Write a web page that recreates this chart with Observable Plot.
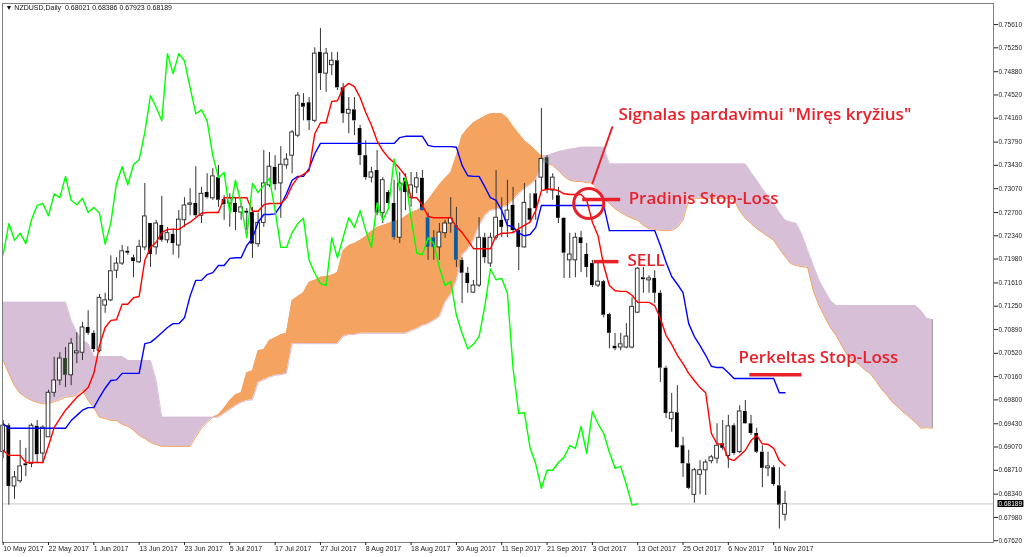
<!DOCTYPE html>
<html>
<head>
<meta charset="utf-8">
<script src="https://cdn.jsdelivr.net/npm/d3@7"></script>
<script src="https://cdn.jsdelivr.net/npm/@observablehq/plot@0.6"></script>
<style>
  html, body { margin: 0; padding: 0; background: #fff; }
  #chart { width: 1024px; height: 557px; }
</style>
</head>
<body>
<div id="chart"></div>
<script>
// NZDUSD daily, 10 May 2017 .. 20 Nov 2017 (bar index 0..138)
const open = [
  0.6899, 0.6940, 0.6846, 0.6854, 0.6881, 0.6881, 0.6939, 0.6897, 0.6922, 0.6991,
  0.7010, 0.7044, 0.7018, 0.7052, 0.7053, 0.7092, 0.7083, 0.7056, 0.7126, 0.7134,
  0.7180, 0.7191, 0.7210, 0.7200, 0.7193, 0.7216, 0.7253, 0.7216, 0.7250, 0.7227,
  0.7236, 0.7219, 0.7258, 0.7282, 0.7284, 0.7265, 0.7301, 0.7292, 0.7324, 0.7290,
  0.7284, 0.7284, 0.7270, 0.7272, 0.7270, 0.7221, 0.7254, 0.7312, 0.7340, 0.7315,
  0.7343, 0.7358, 0.7389, 0.7439, 0.7440, 0.7412, 0.7518, 0.7485, 0.7498, 0.7505,
  0.7463, 0.7423, 0.7429, 0.7400, 0.7358, 0.7324, 0.7335, 0.7269, 0.7301, 0.7284,
  0.7231, 0.7323, 0.7293, 0.7309, 0.7323, 0.7262, 0.7231, 0.7216, 0.7238, 0.7253,
  0.7250, 0.7196, 0.7176, 0.7146, 0.7157, 0.7231, 0.7191, 0.7231, 0.7258, 0.7258,
  0.7281, 0.7242, 0.7216, 0.7276, 0.7299, 0.7324, 0.7355, 0.7304, 0.7296, 0.7261,
  0.7196, 0.7196, 0.7231, 0.7205, 0.7191, 0.7157, 0.7163, 0.7112, 0.7063, 0.7061,
  0.7061, 0.7061, 0.7115, 0.7169, 0.7165, 0.7168, 0.7145, 0.7029, 0.6950, 0.6960,
  0.6909, 0.6881, 0.6833, 0.6864, 0.6871, 0.6885, 0.6889, 0.6912, 0.6893, 0.6940,
  0.6899, 0.6962, 0.6943, 0.6928, 0.6899, 0.6874, 0.6875, 0.6847, 0.68021
];
const high = [
  0.6948, 0.6943, 0.6869, 0.6917, 0.6905, 0.6943, 0.6948, 0.6940, 0.6995, 0.7046,
  0.7053, 0.7061, 0.7075, 0.7084, 0.7100, 0.7118, 0.7087, 0.7143, 0.7145, 0.7203,
  0.7200, 0.7219, 0.7217, 0.7204, 0.7227, 0.7315, 0.7253, 0.7258, 0.7295, 0.7247,
  0.7245, 0.7273, 0.7293, 0.7307, 0.7341, 0.7309, 0.7330, 0.7338, 0.7343, 0.7296,
  0.7299, 0.7293, 0.7284, 0.7276, 0.7278, 0.7269, 0.7366, 0.7363, 0.7358, 0.7372,
  0.7361, 0.7397, 0.7456, 0.7454, 0.7448, 0.7525, 0.7555, 0.7524, 0.7518, 0.7518,
  0.7470, 0.7448, 0.7448, 0.7405, 0.7381, 0.7340, 0.7366, 0.7324, 0.7304, 0.7320,
  0.7332, 0.7330, 0.7332, 0.7332, 0.7335, 0.7269, 0.7242, 0.7253, 0.7258, 0.7293,
  0.7278, 0.7200, 0.7185, 0.7165, 0.7262, 0.7238, 0.7238, 0.7335, 0.7293, 0.7320,
  0.7309, 0.7253, 0.7315, 0.7299, 0.7320, 0.7431, 0.7358, 0.7330, 0.7309, 0.7262,
  0.7238, 0.7238, 0.7241, 0.7222, 0.7196, 0.7191, 0.7165, 0.7114, 0.7083, 0.7083,
  0.7098, 0.7138, 0.7185, 0.7185, 0.7172, 0.7180, 0.7149, 0.7032, 0.6990, 0.7002,
  0.6922, 0.6902, 0.6874, 0.6886, 0.6887, 0.6894, 0.6943, 0.6948, 0.6956, 0.6943,
  0.6971, 0.6979, 0.6956, 0.6936, 0.6909, 0.6899, 0.6878, 0.6875, 0.68386
];
const low = [
  0.6889, 0.6817, 0.6826, 0.6851, 0.6861, 0.6875, 0.6881, 0.6881, 0.6922, 0.6984,
  0.7002, 0.6999, 0.7002, 0.7036, 0.7041, 0.7080, 0.7053, 0.7053, 0.7114, 0.7132,
  0.7168, 0.7188, 0.7204, 0.7169, 0.7191, 0.7211, 0.7185, 0.7204, 0.7224, 0.7222,
  0.7204, 0.7199, 0.7247, 0.7265, 0.7262, 0.7253, 0.7291, 0.7289, 0.7278, 0.7258,
  0.7247, 0.7242, 0.7258, 0.7242, 0.7199, 0.7216, 0.7247, 0.7309, 0.7304, 0.7261,
  0.7337, 0.7330, 0.7386, 0.7412, 0.7397, 0.7409, 0.7459, 0.7456, 0.7482, 0.7459,
  0.7408, 0.7392, 0.7389, 0.7343, 0.7320, 0.7316, 0.7265, 0.7253, 0.7278, 0.7227,
  0.7222, 0.7273, 0.7278, 0.7299, 0.7272, 0.7196, 0.7196, 0.7196, 0.7230, 0.7238,
  0.7185, 0.7129, 0.7145, 0.7145, 0.7154, 0.7191, 0.7185, 0.7227, 0.7231, 0.7231,
  0.7238, 0.7180, 0.7215, 0.7254, 0.7258, 0.7304, 0.7299, 0.7289, 0.7253, 0.7168,
  0.7168, 0.7169, 0.7177, 0.7169, 0.7154, 0.7154, 0.7107, 0.7059, 0.7056, 0.7056,
  0.7059, 0.7059, 0.7114, 0.7145, 0.7145, 0.7129, 0.7007, 0.6951, 0.6930, 0.6905,
  0.6860, 0.6841, 0.6820, 0.6833, 0.6832, 0.6881, 0.6881, 0.6902, 0.6874, 0.6894,
  0.6897, 0.6942, 0.6925, 0.6897, 0.6844, 0.6861, 0.6846, 0.6780, 0.67923
];
const close = [
  0.6940, 0.6846, 0.6860, 0.6877, 0.6878, 0.6940, 0.6895, 0.6937, 0.6991, 0.7010,
  0.7044, 0.7018, 0.7067, 0.7055, 0.7092, 0.7083, 0.7058, 0.7138, 0.7134, 0.7179,
  0.7191, 0.7210, 0.7207, 0.7194, 0.7217, 0.7264, 0.7205, 0.7253, 0.7227, 0.7238,
  0.7222, 0.7259, 0.7281, 0.7284, 0.7265, 0.7299, 0.7293, 0.7326, 0.7289, 0.7282,
  0.7292, 0.7270, 0.7278, 0.7269, 0.7221, 0.7254, 0.7315, 0.7341, 0.7313, 0.7344,
  0.7352, 0.7394, 0.7451, 0.7433, 0.7412, 0.7516, 0.7485, 0.7516, 0.7505, 0.7463,
  0.7423, 0.7429, 0.7412, 0.7358, 0.7324, 0.7332, 0.7269, 0.7320, 0.7284, 0.7231,
  0.7315, 0.7301, 0.7312, 0.7323, 0.7273, 0.7216, 0.7216, 0.7239, 0.7253, 0.7261,
  0.7196, 0.7176, 0.7160, 0.7157, 0.7231, 0.7200, 0.7231, 0.7262, 0.7247, 0.7273,
  0.7242, 0.7216, 0.7285, 0.7258, 0.7276, 0.7353, 0.7304, 0.7324, 0.7261, 0.7207,
  0.7205, 0.7231, 0.7222, 0.7185, 0.7157, 0.7163, 0.7111, 0.7083, 0.7059, 0.7066,
  0.7078, 0.7124, 0.7183, 0.7166, 0.7168, 0.7145, 0.7029, 0.6959, 0.6960, 0.6906,
  0.6881, 0.6843, 0.6871, 0.6871, 0.6883, 0.6891, 0.6909, 0.6905, 0.6939, 0.6897,
  0.6962, 0.6943, 0.6928, 0.6899, 0.6874, 0.6877, 0.6849, 0.6817, 0.68189
];

// Ichimoku lines as drawn (red tenkan-sen, blue kijun-sen)
const tenkan = [
  0.6902, 0.6894, 0.6894, 0.6894, 0.6883, 0.6883, 0.6883, 0.6883, 0.6909, 0.6937,
  0.6951, 0.6964, 0.6974, 0.6984, 0.6991, 0.6999, 0.7021, 0.7064, 0.7092, 0.7103,
  0.7104, 0.7128, 0.7128, 0.7138, 0.7140, 0.7196, 0.7216, 0.7224, 0.7239, 0.7244,
  0.7244, 0.7244, 0.7250, 0.7255, 0.7262, 0.7269, 0.7270, 0.7270, 0.7270, 0.7293,
  0.7293, 0.7293, 0.7293, 0.7293, 0.7272, 0.7272, 0.7282, 0.7284, 0.7284, 0.7284,
  0.7293, 0.7312, 0.7324, 0.7329, 0.7335, 0.7392, 0.7409, 0.7409, 0.7442, 0.7443,
  0.7463, 0.7470, 0.7465, 0.7448, 0.7425, 0.7405, 0.7381, 0.7366, 0.7355, 0.7347,
  0.7338, 0.7327, 0.7293, 0.7293, 0.7281, 0.7264, 0.7262, 0.7262, 0.7262, 0.7262,
  0.7248, 0.7239, 0.7227, 0.7214, 0.7214, 0.7214, 0.7214, 0.7234, 0.7238, 0.7238,
  0.7239, 0.7245, 0.7250, 0.7255, 0.7273, 0.7304, 0.7306, 0.7306, 0.7304, 0.7299,
  0.7298, 0.7298, 0.7298, 0.7289, 0.7255, 0.7234, 0.7188, 0.7157, 0.7149, 0.7148,
  0.7148, 0.7142, 0.7131, 0.7131, 0.7131, 0.7126, 0.7106, 0.7080, 0.7066, 0.7049,
  0.7036, 0.7021, 0.7010, 0.6999, 0.6991, 0.6928, 0.6912, 0.6911, 0.6889, 0.6886,
  0.6894, 0.6902, 0.6917, 0.6925, 0.6912, 0.6911, 0.6905, 0.6886, 0.6878
];
const kijun = [
  0.6943, 0.6936, 0.6936, 0.6936, 0.6936, 0.6936, 0.6936, 0.6936, 0.6936, 0.6936,
  0.6936, 0.6936, 0.6948, 0.6956, 0.6964, 0.6968, 0.6968, 0.6984, 0.6998, 0.7010,
  0.7011, 0.7021, 0.7021, 0.7021, 0.7021, 0.7067, 0.7069, 0.7076, 0.7084, 0.7092,
  0.7098, 0.7098, 0.7107, 0.7141, 0.7165, 0.7165, 0.7174, 0.7177, 0.7188, 0.7188,
  0.7199, 0.7200, 0.7200, 0.7219, 0.7230, 0.7255, 0.7267, 0.7267, 0.7268, 0.7281,
  0.7299, 0.7320, 0.7326, 0.7326, 0.7338, 0.7361, 0.7377, 0.7377, 0.7377, 0.7377,
  0.7377, 0.7377, 0.7377, 0.7377, 0.7377, 0.7377, 0.7377, 0.7377, 0.7377, 0.7377,
  0.7386, 0.7388, 0.7388, 0.7388, 0.7388, 0.7374, 0.7372, 0.7372, 0.7372, 0.7372,
  0.7371, 0.7343, 0.7327, 0.7326, 0.7326, 0.7310, 0.7293, 0.7289, 0.7273, 0.7250,
  0.7248, 0.7238, 0.7234, 0.7236, 0.7247, 0.7281, 0.7281, 0.7281, 0.7281, 0.7281,
  0.7281, 0.7281, 0.7281, 0.7281, 0.7281, 0.7281, 0.7281, 0.7242, 0.7242, 0.7242,
  0.7242, 0.7242, 0.7242, 0.7242, 0.7242, 0.7242, 0.7219, 0.7193, 0.7171, 0.7159,
  0.7146, 0.7098, 0.7078, 0.7064, 0.7049, 0.7032, 0.7030, 0.7030, 0.7022, 0.7013,
  0.7013, 0.7013, 0.7013, 0.7013, 0.7013, 0.7013, 0.7013, 0.6991, 0.6991
];

// cloud edges, already shifted 26 bars forward (index 0..164)
const spanA = [
  0.7041, 0.7021, 0.7002, 0.6990, 0.6984, 0.6979, 0.6976, 0.6974, 0.6974, 0.6977,
  0.6980, 0.6984, 0.6985, 0.6987, 0.6995, 0.6979, 0.6968, 0.6953, 0.6951, 0.6948,
  0.6948, 0.6942, 0.6939, 0.6933, 0.6925, 0.6920, 0.6914, 0.6911, 0.6908, 0.6908,
  0.6908, 0.6908, 0.6908, 0.6908, 0.6923, 0.6936, 0.6945, 0.6953, 0.6957, 0.6967,
  0.6979, 0.6988, 0.6991, 0.7022, 0.7025, 0.7056, 0.7058, 0.7072, 0.7076, 0.7081,
  0.7083, 0.7134, 0.7140, 0.7146, 0.7162, 0.7165, 0.7170, 0.7171, 0.7173, 0.7177,
  0.7211, 0.7219, 0.7222, 0.7227, 0.7233, 0.7241, 0.7247, 0.7250, 0.7253, 0.7256,
  0.7258, 0.7264, 0.7270, 0.7273, 0.7279, 0.7289, 0.7301, 0.7313, 0.7323, 0.7332,
  0.7358, 0.7389, 0.7400, 0.7409, 0.7414, 0.7419, 0.7423, 0.7423, 0.7423, 0.7416,
  0.7403, 0.7392, 0.7381, 0.7374, 0.7366, 0.7357, 0.7346, 0.7343, 0.7335, 0.7326,
  0.7320, 0.7318, 0.7318, 0.7316, 0.7316, 0.7304, 0.7292, 0.7284, 0.7276, 0.7270,
  0.7265, 0.7261, 0.7258, 0.7250, 0.7245, 0.7244, 0.7242, 0.7242, 0.7242, 0.7247,
  0.7258, 0.7290, 0.7292, 0.7292, 0.7292, 0.7292, 0.7292, 0.7292, 0.7292, 0.7289,
  0.7273, 0.7261, 0.7253, 0.7245, 0.7239, 0.7233, 0.7227, 0.7214, 0.7202, 0.7191,
  0.7188, 0.7186, 0.7185, 0.7149, 0.7126, 0.7109, 0.7092, 0.7080, 0.7064, 0.7049,
  0.7041, 0.7035, 0.7027, 0.7021, 0.7010, 0.6997, 0.6987, 0.6976, 0.6968, 0.6960,
  0.6953, 0.6945, 0.6936, 0.6937, 0.6936
];
const spanB = [
  0.7131, 0.7131, 0.7131, 0.7131, 0.7131, 0.7131, 0.7131, 0.7131, 0.7131, 0.7131,
  0.7131, 0.7131, 0.7103, 0.7084, 0.7072, 0.7067, 0.7047, 0.7047, 0.7047, 0.7047,
  0.7047, 0.7047, 0.7041, 0.7041, 0.7041, 0.7041, 0.7041, 0.7010, 0.6953, 0.6953,
  0.6953, 0.6953, 0.6953, 0.6953, 0.6953, 0.6953, 0.6953, 0.6953, 0.6953, 0.6959,
  0.6965, 0.6971, 0.6976, 0.6979, 0.6980, 0.7007, 0.7011, 0.7015, 0.7018, 0.7019,
  0.7021, 0.7067, 0.7067, 0.7067, 0.7067, 0.7067, 0.7067, 0.7067, 0.7067, 0.7067,
  0.7078, 0.7081, 0.7081, 0.7083, 0.7083, 0.7083, 0.7083, 0.7083, 0.7083, 0.7083,
  0.7083, 0.7083, 0.7087, 0.7090, 0.7095, 0.7098, 0.7103, 0.7109, 0.7131, 0.7143,
  0.7165, 0.7204, 0.7213, 0.7227, 0.7250, 0.7265, 0.7273, 0.7275, 0.7278, 0.7281,
  0.7289, 0.7299, 0.7307, 0.7313, 0.7320, 0.7343, 0.7358, 0.7361, 0.7364, 0.7366,
  0.7368, 0.7369, 0.7371, 0.7371, 0.7371, 0.7371, 0.7371, 0.7345, 0.7345, 0.7345,
  0.7345, 0.7345, 0.7345, 0.7345, 0.7345, 0.7345, 0.7345, 0.7345, 0.7345, 0.7345,
  0.7345, 0.7345, 0.7345, 0.7345, 0.7345, 0.7345, 0.7345, 0.7345, 0.7345, 0.7345,
  0.7345, 0.7345, 0.7332, 0.7320, 0.7307, 0.7295, 0.7284, 0.7270, 0.7258, 0.7255,
  0.7253, 0.7235, 0.7211, 0.7188, 0.7165, 0.7149, 0.7134, 0.7126, 0.7126, 0.7126,
  0.7126, 0.7126, 0.7126, 0.7126, 0.7126, 0.7126, 0.7126, 0.7126, 0.7126, 0.7126,
  0.7126, 0.7126, 0.7118, 0.7106, 0.7104
];

// axis labels
const dateIdx = [0, 8, 16, 24, 32, 40, 48, 56, 64, 72, 80, 88, 96, 104, 112, 120, 128, 136];
const dateLabels = ["10 May 2017", "22 May 2017", "1 Jun 2017", "13 Jun 2017", "23 Jun 2017",
  "5 Jul 2017", "17 Jul 2017", "27 Jul 2017", "8 Aug 2017", "18 Aug 2017", "30 Aug 2017",
  "11 Sep 2017", "21 Sep 2017", "3 Oct 2017", "13 Oct 2017", "25 Oct 2017", "6 Nov 2017", "16 Nov 2017"];
const priceTicks = [0.75610, 0.75250, 0.74880, 0.74520, 0.74160, 0.73790, 0.73430, 0.73070,
  0.72700, 0.72340, 0.71980, 0.71610, 0.71250, 0.70890, 0.70520, 0.70160, 0.69800, 0.69430,
  0.69070, 0.68710, 0.68340, 0.67980, 0.67620];

// hand drawn notes (bar index, price)
const noteText = ['Signalas pardavimui "Miręs kryžius"', "Pradinis Stop-Loss", "SELL", "Perkeltas Stop-Loss"];
const noteBar = [108.6, 110.4, 110.2, 129.8];
const notePrice = [0.7422, 0.7292, 0.7196, 0.7045];
const dashFrom = [102.2, 104.2, 131.7];
const dashTo = [108.9, 108.6, 140.9];
const dashPrice = [0.7290, 0.7194, 0.7019];
const pointerBar = [107.5, 104.0];
const pointerPrice = [0.7402, 0.7315];
const crossBar = [103.35];
const crossPrice = [0.7284];

const red = "#e8202a";

const bars = close.map((c, i) => ({i, o: open[i], h: high[i], l: low[i], c}));
const up = bars.filter(d => d.c >= d.o);
const down = bars.filter(d => d.c < d.o);
const lines = tenkan.map((t, i) => ({i, t, k: kijun[i]}));
const cloud = spanA.map((a, i) => ({i, a, b: spanB[i]}));
const lagging = close.slice(26).map((c, k) => ({i: k, c})); // chikou = close shifted back 26
const last = bars[bars.length - 1];
const notes = noteText.map((t, k) => ({t, x: noteBar[k], y: notePrice[k]}));
const dashes = dashFrom.map((x1, k) => ({x1, x2: dashTo[k], y: dashPrice[k]}));
const pointer = pointerBar.map((x, k) => ({x, y: pointerPrice[k]}));
const half = 0.33; // half body width, in bars
const bidText = last.c.toFixed(5);

const header = "\u25BC NZDUSD,Daily  " + [last.o, last.h, last.l, last.c].map(v => v.toFixed(5)).join(" ");

const chart = Plot.plot({
  width: 1024,
  height: 557,
  marginTop: 3,
  marginRight: 31,
  marginBottom: 15,
  marginLeft: 2,
  style: {fontFamily: '"Liberation Sans", Arial, sans-serif', fontSize: "7px", color: "#222", background: "white"},
  x: {type: "linear", domain: [-0.12, 174.8]},
  y: {domain: [0.67592, 0.75936]},
  marks: [
    Plot.frame({fill: "white"}),

    // kumo
    Plot.areaY(cloud, {x: "i", y1: "b", y2: d => Math.max(d.a, d.b), fill: "#F4A460"}),
    Plot.areaY(cloud, {x: "i", y1: "a", y2: d => Math.max(d.a, d.b), fill: "#D8BFD8"}),
    Plot.lineY(cloud, {x: "i", y: "a", stroke: "#F4A460", strokeWidth: 1}),
    Plot.lineY(cloud, {x: "i", y: "b", stroke: "#D8BFD8", strokeWidth: 1}),
    Plot.ruleX([cloud[cloud.length - 1]], {x: "i", y1: "a", y2: "b", stroke: "#8c8c8c"}),

    // bid line
    Plot.ruleY([last.c], {stroke: "#c8c8c8"}),

    // candles
    Plot.ruleX(bars, {x: "i", y1: "h", y2: d => Math.max(d.o, d.c), stroke: "#333", strokeWidth: 1}),
    Plot.ruleX(bars, {x: "i", y1: d => Math.min(d.o, d.c), y2: "l", stroke: "#333", strokeWidth: 1}),
    Plot.rect(up, {x1: d => d.i - half, x2: d => d.i + half, y1: "o", y2: "c", fill: "white", stroke: "#222", strokeWidth: 0.9}),
    Plot.rect(down, {x1: d => d.i - half, x2: d => d.i + half, y1: "o", y2: "c", fill: "white", mixBlendMode: "difference"}),

    // tenkan, kijun, chikou
    Plot.lineY(lines, {x: "i", y: "k", stroke: "#0000ff", strokeWidth: 1.4}),
    Plot.lineY(lines, {x: "i", y: "t", stroke: "#ff0000", strokeWidth: 1.4}),
    Plot.lineY(lagging, {x: "i", y: "c", stroke: "#00ff00", strokeWidth: 1.4}),

    // notes
    Plot.line(pointer, {x: "x", y: "y", stroke: red, strokeWidth: 2}),
    Plot.dot(crossBar.map((x, k) => ({x, y: crossPrice[k]})), {x: "x", y: "y", r: 15, stroke: red, strokeWidth: 3, fill: "none"}),
    Plot.link(dashes, {x1: "x1", x2: "x2", y1: "y", y2: "y", stroke: red, strokeWidth: 3.5}),
    Plot.text(notes, {x: "x", y: "y", text: "t", textAnchor: "start", lineAnchor: "middle",
      fill: red, fontSize: 17, fontWeight: 600, fontFamily: '"Open Sans", sans-serif'}),

    // header
    Plot.text([header], {frameAnchor: "top-left", dx: 3, dy: 2, lineAnchor: "top", textAnchor: "start", fill: "#111", fontSize: 7}),

    Plot.frame({stroke: "#808080"}),

    // axes
    Plot.axisY({anchor: "right", ticks: priceTicks, tickFormat: d => d.toFixed(5), tickSize: 4, tickPadding: 1,
      fontSize: 6.5, label: null}),
    Plot.axisX({ticks: dateIdx, tickFormat: d => dateLabels[dateIdx.indexOf(d)], tickSize: 3, tickPadding: 1,
      textAnchor: "start", dx: 0, label: null}),

    // current price tag (text; its black box is added below)
    Plot.text([last.c], {y: d => d, frameAnchor: "right", dx: 5, textAnchor: "start", lineAnchor: "middle",
      fill: "white", fontSize: 6.5, text: () => bidText})
  ]
});

document.getElementById("chart").append(chart);

// black box behind the current price tag
try {
  const svgBox = chart.getBoundingClientRect();
  const tagNode = Array.from(chart.querySelectorAll("text"))
    .find(t => t.textContent === bidText && t.getAttribute("fill") !== null);
  const node = tagNode || Array.from(chart.querySelectorAll("text")).find(t => t.textContent === bidText);
  if (node) {
    const r = node.getBoundingClientRect();
    let top = node;
    while (top.parentNode && top.parentNode !== chart) top = top.parentNode;
    const box = document.createElementNS("http://www.w3.org/2000/svg", "rect");
    box.setAttribute("x", r.left - svgBox.left - 1);
    box.setAttribute("y", r.top - svgBox.top);
    box.setAttribute("width", r.width + 2);
    box.setAttribute("height", r.height);
    box.setAttribute("fill", "black");
    chart.insertBefore(box, top);
  }
} catch (e) { console.error(e); }
</script>
</body>
</html>
